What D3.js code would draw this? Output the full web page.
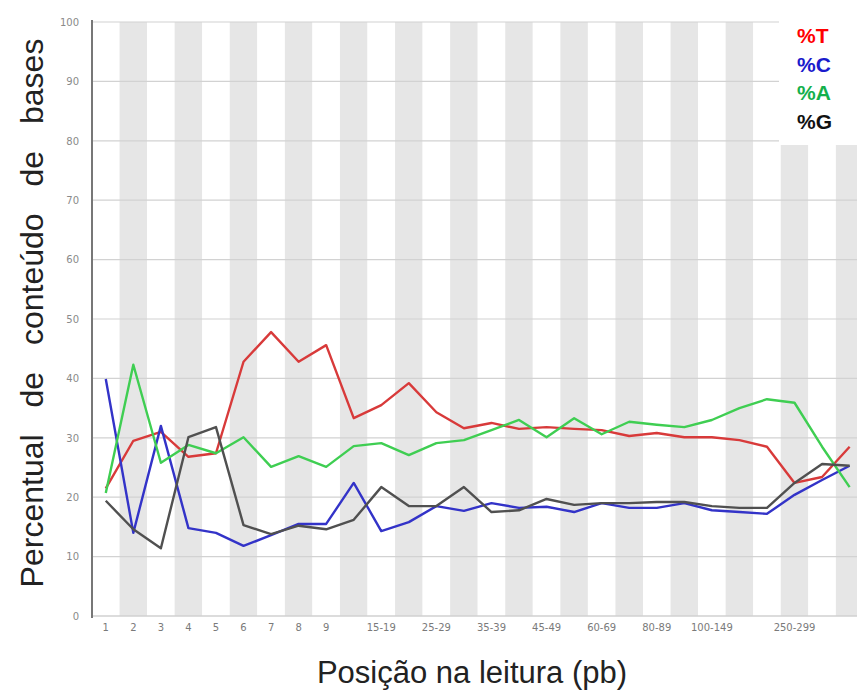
<!DOCTYPE html>
<html>
<head>
<meta charset="utf-8">
<script src="https://cdn.jsdelivr.net/npm/d3@7"></script>
<style>
  html, body { margin: 0; padding: 0; background: #fff; }
  svg { display: block; }
</style>
</head>
<body>
<div id="chart"></div>
<script>
// ---- Data ----
const categories = ["1","2","3","4","5","6","7","8","9",
  "10-14","15-19","20-24","25-29","30-34","35-39","40-44","45-49",
  "50-59","60-69","70-79","80-89","90-99",
  "100-149","150-199","200-249","250-299","300-349","350-351"];
const shownLabels = ["1","2","3","4","5","6","7","8","9","15-19","25-29","35-39","45-49","60-69","80-89","100-149","250-299"];
const yTicks = [0,10,20,30,40,50,60,70,80,90,100];

const seriesT = [21.5,29.5,31.0,26.8,27.4,42.8,47.8,42.8,45.6,33.3,35.5,39.2,34.3,31.6,32.5,31.5,31.8,31.5,31.3,30.3,30.8,30.1,30.1,29.6,28.5,22.4,23.4,28.5];
const seriesC = [39.9,14.0,32.0,14.8,14.0,11.8,13.6,15.5,15.5,22.4,14.3,15.8,18.5,17.7,19.0,18.2,18.4,17.5,19.0,18.2,18.2,19.0,17.8,17.5,17.2,20.4,22.9,25.3];
const seriesA = [20.7,42.3,25.8,28.8,27.4,30.1,25.1,26.9,25.1,28.6,29.1,27.1,29.1,29.6,31.3,33.0,30.1,33.3,30.6,32.7,32.2,31.8,33.0,35.0,36.5,35.9,28.5,21.7];
const seriesG = [19.4,14.6,11.4,30.1,31.8,15.3,13.8,15.2,14.6,16.2,21.7,18.5,18.5,21.7,17.5,17.8,19.7,18.7,19.0,19.0,19.2,19.2,18.5,18.2,18.2,22.4,25.6,25.3];

const seriesNames = ["%T","%C","%A","%G"];
const seriesColors = ["#d83a3a","#3333c8","#3fce52","#505050"];
const legendColors = ["#ff0000","#1a1acc","#14b04c","#111111"];
const allSeries = [seriesT, seriesC, seriesA, seriesG];

// ---- Layout ----
const W = 857, H = 696;
const mLeft = 92, mTop = 22, mBottom = 616;
const band = 27.55;

const svg = d3.select("#chart").append("svg")
  .attr("width", W).attr("height", H);

const x = d3.scaleBand().domain(categories)
  .range([mLeft, mLeft + band * categories.length]).paddingInner(0).paddingOuter(0);
const y = d3.scaleLinear().domain([0, 100]).range([mBottom, mTop]);

// stripes
svg.append("g").selectAll("rect").data(categories).join("rect")
  .attr("x", d => x(d)).attr("y", y(100))
  .attr("width", x.bandwidth()).attr("height", y(0) - y(100))
  .attr("fill", (d, i) => i % 2 ? "#e6e6e6" : "#ffffff");

// horizontal gridlines
svg.append("g").selectAll("line").data(yTicks.filter(t => t > 0)).join("line")
  .attr("x1", mLeft).attr("x2", W)
  .attr("y1", d => y(d)).attr("y2", d => y(d))
  .attr("stroke", "#d2d2d2").attr("stroke-width", 1.2);

// bottom axis line
svg.append("line").attr("x1", mLeft).attr("x2", W)
  .attr("y1", y(0)).attr("y2", y(0))
  .attr("stroke", "#d0d0d0").attr("stroke-width", 1.5);

// y axis
const yAxis = d3.axisLeft(y).tickValues(yTicks).tickSize(0).tickPadding(13);
const gy = svg.append("g").attr("transform", `translate(${mLeft},0)`).call(yAxis);
gy.select(".domain").attr("stroke", "#777").attr("stroke-width", 2)
  .attr("d", `M0,${y(100) - 2}V${y(0) + 2}`);
gy.selectAll("text").attr("fill", "#8a8a8a")
  .style("font-family", "DejaVu Sans, sans-serif").style("font-size", "10px");

// x axis
const xAxis = d3.axisBottom(x).tickSize(0).tickPadding(8)
  .tickFormat(d => shownLabels.includes(d) ? d : "");
const gx = svg.append("g").attr("transform", `translate(0,${mBottom})`).call(xAxis);
gx.select(".domain").remove();
gx.selectAll("text").attr("fill", "#7a7a7a")
  .style("font-family", "DejaVu Sans, sans-serif").style("font-size", "10px");

// lines
const line = d3.line()
  .x((d, i) => x(categories[i]) + x.bandwidth() / 2)
  .y(d => y(d));
svg.append("g").selectAll("path").data(allSeries).join("path")
  .attr("d", d => line(d))
  .attr("fill", "none")
  .attr("stroke", (d, i) => seriesColors[i])
  .attr("stroke-width", 2.4)
  .attr("stroke-linejoin", "round");

// legend box
svg.append("rect").attr("x", 779).attr("y", 0).attr("width", 78).attr("height", 145).attr("fill", "#fff");
svg.append("g").selectAll("text").data(seriesNames).join("text")
  .attr("x", 797).attr("y", (d, i) => 43 + i * 28.7)
  .attr("fill", (d, i) => legendColors[i])
  .style("font-family", "Liberation Sans, Arial, sans-serif")
  .style("font-weight", "bold").style("font-size", "21px")
  .text(d => d);

// axis titles
svg.append("text")
  .attr("transform", `translate(43,313) rotate(-90)`)
  .attr("text-anchor", "middle")
  .attr("fill", "#222")
  .style("font-family", "Liberation Sans, Arial, sans-serif")
  .style("font-size", "32px")
  .style("word-spacing", "18px")
  .text("Percentual de conteúdo de bases");

svg.append("text")
  .attr("x", 472).attr("y", 683)
  .attr("text-anchor", "middle")
  .attr("fill", "#222")
  .style("font-family", "Liberation Sans, Arial, sans-serif")
  .style("font-size", "31px")
  .text("Posição na leitura (pb)");
</script>
</body>
</html>
